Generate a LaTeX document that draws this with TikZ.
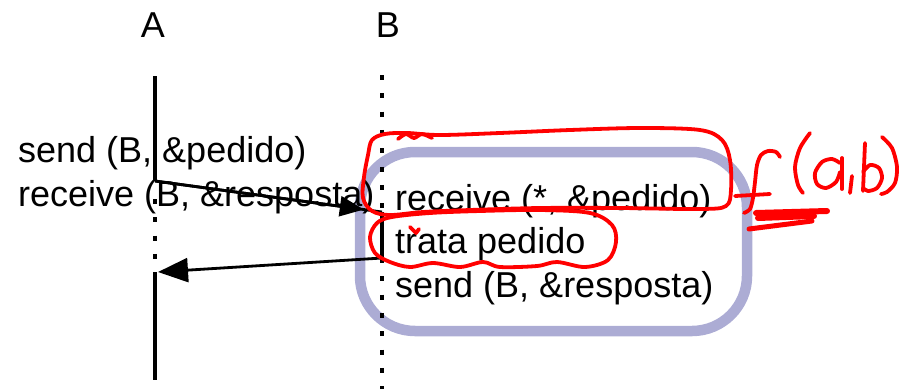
\documentclass[tikz,border=0pt]{standalone}
\usepackage{fontspec}
\setmainfont{Liberation Sans}
\usetikzlibrary{arrows.meta,calc}
\definecolor{boxblue}{RGB}{172,172,212}
\definecolor{inkred}{RGB}{255,0,0}
\begin{document}
\begin{tikzpicture}[x=1pt,y=-1pt,
  lbl/.style={inner sep=0pt,anchor=base west,font=\fontsize{36}{43}\selectfont},
  head/.style={inner sep=0pt,anchor=base,font=\fontsize{36}{43}\selectfont},
  life/.style={line width=3.2pt},
  dotline/.style={line width=3.5pt,dash pattern=on 5pt off 13.3pt},
  msg/.style={line width=2.8pt},
  ink/.style={inkred,line width=3.8pt,line cap=round,line join=round},
  blot/.style={inkred,line width=6pt,line cap=round},
]
\useasboundingbox (0,0) rectangle (900,389);

% process block of B
\draw[boxblue,line width=10.5pt,rounded corners=55pt] (360,152) rectangle (747,331);

% process names
\node[head] (nameA) at (153,37) {A};
\node[head] (nameB) at (388,37) {B};

% lifeline points
\coordinate (Atop) at (155,76);
\coordinate (Asend) at (155,181);
\coordinate (Adot) at (155,199);
\coordinate (Arecv) at (155,272);
\coordinate (Abot) at (155,380);
\coordinate (Btop) at (382,75);
\coordinate (Bbot) at (382,389);
\coordinate (Brecv) at (382,212);
\coordinate (Bsend) at (382,258);

% lifelines
\draw[life] (Atop) -- (Asend);
\draw[dotline] (Adot) -- (Arecv);
\draw[life] (Arecv) -- (Abot);
\draw[dotline] (Btop) -- (Bbot);
\draw[life] (Brecv) -- (Bsend);

% messages
\draw[msg] (Asend) -- (Brecv);
\draw[msg,-{Triangle[length=24pt,width=20pt]}] (Asend) -- ($(Asend)!0.92!(Brecv)$);
\draw[msg,-{Triangle[length=30pt,width=24pt]}] (Bsend) -- (158,272);

% code of A
\node[lbl] (sendA) at (18,162) {send (B, \&pedido)};
\node[lbl] (recvA) at (18,206) {receive (B, \&resposta)};

% code of B
\node[lbl] (recvB) at (395,210) {receive (*, \&pedido)};
\node[lbl] (trata) at (395,253) {trata pedido};
\node[lbl] (sendB) at (395,297) {send (B, \&resposta)};

% handwritten notes
\draw[ink] plot[smooth cycle,tension=0.55] coordinates {
  (372,140) (385,134) (407,133) (440,135) (500,133) (570,130) (640,128)
  (700,130) (722,140) (730,160) (731,190) (726,206) (700,209) (620,208)
  (540,208) (470,210) (423,212) (390,215) (372,211) (363,198) (364,177) (368,155)};
\draw[ink] plot[smooth] coordinates {(398,139) (406,134) (414,138) (422,134) (432,138)};
\draw[ink] plot[smooth cycle,tension=0.55] coordinates {
  (392,217) (430,213) (480,211) (540,210) (590,213) (612,225) (616,242)
  (608,260) (585,267) (557,262) (537,266) (500,267) (483,262) (460,267)
  (433,263) (410,267) (390,262) (375,253) (370,237) (377,223)};
\draw[ink] (410,227) -- (416,233) -- (419,229);

% f(a,b)
\draw[ink] (735,196) -- (770,194);
\draw[ink] plot[smooth] coordinates {(780,157) (776,152) (768,151) (761,155) (757,165) (755,182) (753,198) (750,209) (744,213)};
\draw[ink] plot[smooth] coordinates {(810,133) (800,148) (795,167) (798,185) (803,193)};
\draw[ink] plot[smooth] coordinates {(840,163) (832,159) (822,162) (815,173) (817,184) (826,188) (836,182) (840,172)};
\draw[ink] (842,158) -- (842,189);
\draw[ink] (852,176) -- (850,193);
\draw[ink] (865,143) -- (863,191);
\draw[ink] plot[smooth] coordinates {(863,172) (870,165) (879,168) (882,178) (877,188) (868,191) (863,188)};
\draw[ink] plot[smooth] coordinates {(882,137) (892,148) (897,167) (895,183) (887,192) (881,194)};

% scribble under the note
\draw[blot] (756,213) -- (827,211);
\draw[blot] (758,218) -- (814,216);
\draw[blot,line width=5pt] (749,229) -- (812,221);
\end{tikzpicture}
\end{document}
